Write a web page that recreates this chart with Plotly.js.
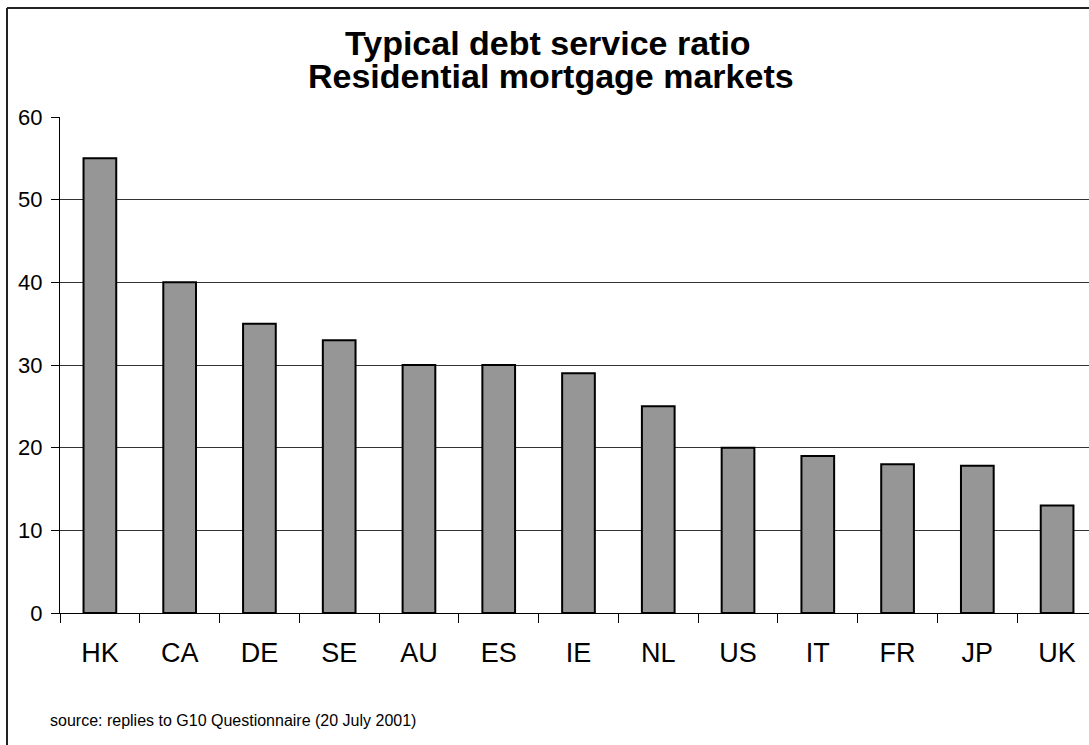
<!DOCTYPE html>
<html>
<head>
<meta charset="utf-8">
<script src="https://cdn.plot.ly/plotly-3.0.1.min.js"></script>
<style>
html,body{margin:0;padding:0;background:#fff;}
#chart{width:1089px;height:745px;}
</style>
</head>
<body>
<div id="chart"></div>
<script>
const categories = ["HK","CA","DE","SE","AU","ES","IE","NL","US","IT","FR","JP","UK"];
const values = [55, 40, 35, 33, 30, 30, 29, 25, 20, 19, 18, 17.8, 13];
const yTicks = [0, 10, 20, 30, 40, 50, 60];
const titleLines = ["Typical debt service ratio", "Residential mortgage markets"];
const sourceText = "source: replies to G10 Questionnaire (20 July 2001)";

const FONT = "Arial, 'Liberation Sans', sans-serif";
const PL = 60, PW = 1029, PT = 117, PH = 496;
const px2x = px => (px - PL) / PW;
const py2y = py => (PT + PH - py) / PH;

const trace = {
  type: "bar",
  x: categories,
  y: values,
  marker: {color: "#969696", line: {color: "#000000", width: 2}},
  hoverinfo: "x+y"
};

const layout = {
  width: 1089,
  height: 745,
  margin: {l: PL, r: 0, t: PT, b: 745 - PT - PH},
  paper_bgcolor: "#ffffff",
  plot_bgcolor: "#ffffff",
  font: {family: FONT, color: "#000"},
  showlegend: false,
  bargap: 0.59,
  xaxis: {
    type: "category",
    range: [-0.5, 12.4],
    showline: true, linecolor: "#000", linewidth: 1,
    ticks: "outside", tickson: "boundaries", ticklen: 9, tickcolor: "#000", tickwidth: 1,
    tickfont: {size: 27, color: "#000"},
    ticklabelstandoff: 16,
    showgrid: false, zeroline: false, fixedrange: true
  },
  yaxis: {
    range: [0, 60],
    tickvals: yTicks,
    showline: true, linecolor: "#000", linewidth: 1,
    ticks: "outside", ticklen: 8, tickcolor: "#000", tickwidth: 1,
    tickfont: {size: 22, color: "#000"},
    ticklabelstandoff: 4,
    showgrid: true, gridcolor: "#333", gridwidth: 1,
    zeroline: false, fixedrange: true
  },
  shapes: [
    {type: "line", xref: "paper", yref: "paper",
     x0: px2x(7), x1: 1.05, y0: py2y(8), y1: py2y(8),
     line: {color: "#222", width: 2}},
    {type: "line", xref: "paper", yref: "paper",
     x0: px2x(7), x1: px2x(7), y0: py2y(8), y1: py2y(760),
     line: {color: "#222", width: 2}}
  ],
  annotations: [
    {text: "<b>" + titleLines[0] + "</b>", xref: "paper", yref: "paper",
     x: px2x(548), y: py2y(43), xanchor: "center", yanchor: "middle",
     showarrow: false, font: {size: 34, family: FONT, color: "#000"}},
    {text: "<b>" + titleLines[1] + "</b>", xref: "paper", yref: "paper",
     x: px2x(551), y: py2y(76), xanchor: "center", yanchor: "middle",
     showarrow: false, font: {size: 34, family: FONT, color: "#000"}},
    {text: sourceText, xref: "paper", yref: "paper",
     x: px2x(48), y: py2y(720), xanchor: "left", yanchor: "middle",
     showarrow: false, font: {size: 16, color: "#000"}}
  ]
};

Plotly.newPlot("chart", [trace], layout, {displayModeBar: false});
</script>
</body>
</html>
